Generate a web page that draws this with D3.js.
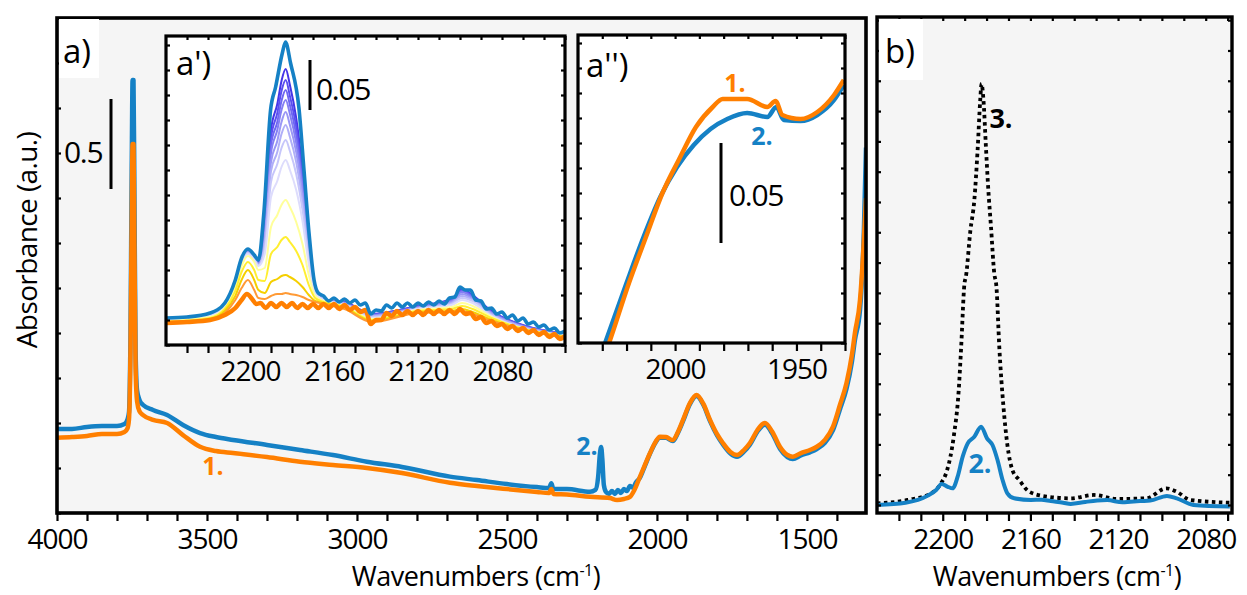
<!DOCTYPE html>
<html>
<head>
<meta charset="utf-8">
<script src="https://cdn.jsdelivr.net/npm/d3@7"></script>
<style>
  body { margin: 0; background: #fff; }
  svg text { font-family: "Open Sans", sans-serif; }
</style>
</head>
<body>
<svg id="chart" width="1247" height="595"></svg>
<script>
// ---------- data: panel a (full spectra) ----------
const mainOrangeWn  = [4000, 3950, 3900, 3850, 3800, 3775, 3765, 3760, 3755, 3751, 3748, 3745, 3742, 3738, 3733, 3725, 3713, 3680, 3633, 3580, 3523, 3470, 3413, 3300, 3190, 3080, 2967, 2850, 2690, 2600, 2500, 2400, 2360, 2352, 2345, 2300, 2223, 2157, 2133, 2110, 2090, 2075, 2057, 2040, 2023, 2005, 1990, 1970, 1947, 1930, 1913, 1890, 1868, 1845, 1823, 1800, 1780, 1755, 1733, 1710, 1690, 1665, 1640, 1615, 1590, 1565, 1547, 1520, 1490, 1467, 1440, 1413, 1390, 1368, 1350, 1340, 1323, 1310, 1303];
const mainOrangeAbs = [0.418, 0.422, 0.428, 0.439, 0.439, 0.45, 0.47, 0.52, 0.9, 1.6, 2.05, 2.05, 1.5, 0.8, 0.62, 0.565, 0.544, 0.517, 0.5, 0.433, 0.368, 0.344, 0.333, 0.311, 0.285, 0.267, 0.25, 0.222, 0.168, 0.15, 0.133, 0.117, 0.111, 0.133, 0.106, 0.103, 0.09, 0.083, 0.072, 0.078, 0.09, 0.128, 0.2, 0.267, 0.333, 0.394, 0.424, 0.422, 0.405, 0.45, 0.517, 0.611, 0.656, 0.606, 0.517, 0.439, 0.389, 0.339, 0.322, 0.35, 0.389, 0.461, 0.5, 0.45, 0.368, 0.322, 0.313, 0.333, 0.35, 0.368, 0.406, 0.48, 0.6, 0.722, 0.878, 1.0, 1.183, 1.517, 1.75];

const mainBlueWn  = [4000, 3950, 3900, 3850, 3800, 3775, 3765, 3760, 3755, 3751, 3748, 3745, 3742, 3738, 3733, 3725, 3713, 3680, 3633, 3580, 3523, 3470, 3413, 3300, 3190, 3080, 2967, 2850, 2690, 2600, 2500, 2400, 2360, 2352, 2345, 2300, 2223, 2205, 2196, 2190, 2186, 2182, 2177, 2170, 2160, 2150, 2140, 2130, 2120, 2110, 2100, 2090, 2080, 2070, 2057, 2040, 2023, 2005, 1990, 1970, 1947, 1930, 1913, 1890, 1868, 1845, 1823, 1800, 1780, 1755, 1733, 1710, 1690, 1665, 1640, 1615, 1590, 1565, 1547, 1520, 1490, 1467, 1440, 1413, 1390, 1368, 1350, 1340, 1323, 1310, 1303];
const mainBlueAbs = [0.467, 0.467, 0.478, 0.483, 0.483, 0.494, 0.52, 0.56, 1.0, 1.9, 2.406, 2.406, 1.8, 0.9, 0.68, 0.628, 0.6, 0.572, 0.544, 0.489, 0.444, 0.422, 0.406, 0.378, 0.35, 0.322, 0.285, 0.256, 0.202, 0.183, 0.161, 0.144, 0.139, 0.165, 0.133, 0.133, 0.118, 0.128, 0.2, 0.33, 0.367, 0.3, 0.156, 0.117, 0.106, 0.122, 0.106, 0.128, 0.111, 0.133, 0.122, 0.15, 0.14, 0.17, 0.195, 0.262, 0.33, 0.39, 0.42, 0.418, 0.4, 0.445, 0.51, 0.605, 0.65, 0.6, 0.51, 0.432, 0.381, 0.331, 0.313, 0.341, 0.38, 0.452, 0.49, 0.44, 0.357, 0.311, 0.3, 0.32, 0.337, 0.355, 0.39, 0.46, 0.575, 0.69, 0.84, 0.96, 1.128, 1.572, 2.03];

const mainTickLabels = [4000, 3500, 3000, 2500, 2000, 1500];

// ---------- data: inset a' (CO region, sequence of spectra) ----------
const insetBlueWn  = [2240, 2230, 2219, 2212, 2207, 2204, 2201, 2198, 2196, 2193.4, 2190.2, 2187.8, 2184.6, 2183.1, 2180.7, 2176.7, 2174.3, 2171.9, 2169.5, 2167.5,
  2165, 2162.5, 2160, 2157.5, 2155, 2152.5, 2150, 2147.5, 2145, 2142.5, 2140, 2137.5, 2135, 2132.5, 2130, 2127.5, 2125, 2122.5, 2120, 2117.5, 2115, 2112.5, 2110, 2107.5, 2105, 2102.5, 2100, 2097.5, 2095, 2092.5, 2090, 2087.5, 2085, 2082.5, 2080, 2077.5, 2075, 2072.5, 2070, 2067.5, 2065, 2062.5, 2060, 2057.5, 2055, 2052.5, 2050];
const insetBlueAbs = [0.027, 0.028, 0.032, 0.042, 0.065, 0.087, 0.096, 0.090, 0.085, 0.132, 0.235, 0.258, 0.292, 0.303, 0.282, 0.237, 0.175, 0.112, 0.065, 0.052,
  0.049, 0.044, 0.047, 0.043, 0.046, 0.042, 0.045, 0.040, 0.042, 0.031, 0.035, 0.034, 0.040, 0.037, 0.042, 0.038, 0.042, 0.038, 0.042, 0.039, 0.043, 0.040, 0.044, 0.041, 0.047, 0.048, 0.058, 0.055, 0.055, 0.045, 0.044, 0.036, 0.037, 0.031, 0.033, 0.027, 0.030, 0.024, 0.027, 0.021, 0.023, 0.018, 0.020, 0.015, 0.017, 0.012, 0.014];

const insetOrangeWn  = [2240, 2230, 2219, 2212, 2207, 2204, 2201.5, 2199, 2197,
  2195, 2192.5, 2190, 2187.5, 2185, 2182.5, 2180, 2177.5, 2175, 2172.5, 2170, 2167.5, 2165, 2162.5, 2160, 2157.5, 2155, 2152.5, 2150, 2147.5, 2145, 2142.5, 2140, 2137.5, 2135, 2132.5, 2130, 2127.5, 2125, 2122.5, 2120, 2117.5, 2115, 2112.5, 2110, 2107.5, 2105, 2102.5, 2100, 2097.5, 2095, 2092.5, 2090, 2087.5, 2085, 2082.5, 2080, 2077.5, 2075, 2072.5, 2070, 2067.5, 2065, 2062.5, 2060, 2057.5, 2055, 2052.5, 2050];
const insetOrangeAbs = [0.022, 0.023, 0.025, 0.030, 0.037, 0.045, 0.051, 0.046, 0.041,
  0.042, 0.037, 0.042, 0.038, 0.042, 0.038, 0.042, 0.037, 0.041, 0.037, 0.041, 0.037, 0.041, 0.037, 0.041, 0.036, 0.040, 0.035, 0.038, 0.033, 0.035, 0.021, 0.025, 0.025, 0.032, 0.029, 0.034, 0.030, 0.034, 0.030, 0.034, 0.030, 0.035, 0.031, 0.035, 0.031, 0.035, 0.031, 0.036, 0.031, 0.032, 0.026, 0.028, 0.022, 0.024, 0.019, 0.021, 0.016, 0.019, 0.014, 0.017, 0.012, 0.015, 0.010, 0.013, 0.008, 0.011, 0.006, 0.009];

// intermediate spectra (from high coverage to low coverage)
const insetStepWn = [2240, 2219, 2212, 2207, 2204, 2201, 2198, 2196, 2193, 2190, 2187, 2185, 2183, 2181, 2178, 2175, 2172, 2169, 2165, 2155, 2142, 2120, 2104, 2099, 2094, 2085, 2050];
const insetStepAbs = [
  [.026, .031, .041, .064, .086, .095, .089, .083, .122, .215, .241, .264, .276, .260, .227, .175, .105, .058, .045, .043, .031, .039, .046, .056, .050, .034, .011],
  [.026, .031, .041, .064, .086, .094, .088, .083, .118, .207, .232, .254, .265, .249, .218, .169, .102, .058, .045, .043, .031, .039, .045, .055, .049, .033, .011],
  [.026, .031, .040, .063, .085, .094, .088, .082, .114, .200, .223, .244, .255, .240, .210, .163, .100, .057, .045, .042, .030, .038, .045, .054, .048, .033, .011],
  [.025, .030, .040, .063, .085, .093, .087, .082, .111, .192, .215, .235, .245, .231, .202, .158, .097, .056, .045, .042, .030, .038, .044, .053, .047, .032, .010],
  [.025, .030, .040, .062, .084, .093, .087, .081, .107, .183, .204, .223, .233, .220, .193, .151, .094, .055, .045, .042, .029, .037, .043, .051, .046, .032, .010],
  [.025, .030, .039, .062, .084, .092, .086, .080, .103, .174, .193, .211, .220, .208, .183, .143, .090, .054, .045, .041, .029, .037, .042, .049, .045, .031, .010],
  [.025, .029, .039, .061, .083, .092, .086, .080, .097, .163, .181, .197, .205, .194, .171, .135, .086, .053, .045, .041, .028, .036, .041, .047, .044, .030, .009],
  [.024, .029, .038, .060, .082, .091, .085, .079, .091, .148, .164, .178, .185, .175, .155, .124, .081, .052, .045, .040, .027, .036, .040, .045, .042, .029, .009],
  [.024, .028, .037, .058, .079, .089, .083, .075, .077, .118, .130, .140, .145, .138, .123, .101, .070, .049, .044, .039, .026, .035, .038, .042, .039, .028, .009],
  [.023, .027, .036, .054, .073, .083, .075, .065, .064, .091, .098, .105, .108, .103, .094, .080, .060, .047, .043, .038, .025, .034, .036, .039, .036, .027, .008],
  [.023, .026, .034, .049, .065, .075, .065, .055, .052, .063, .066, .069, .070, .068, .064, .058, .050, .044, .042, .037, .024, .033, .034, .036, .033, .025, .008],
  [.023, .025, .032, .045, .057, .065, .055, .047, .046, .049, .051, .051, .052, .051, .050, .048, .045, .043, .041, .036, .023, .032, .033, .034, .031, .024, .007]
];
const insetStepColors = ["#4535e8", "#5a4ef0", "#6e66f2", "#847ff4", "#9a97f6", "#b0aff8", "#c6c6fa", "#dddcfc", "#ffff9a", "#ffee30", "#f5cf00", "#ff9a35"];
const insetTickLabels = [2200, 2160, 2120, 2080];

// ---------- data: inset a'' ----------
const dblBlueWn  = [2034, 2028.8, 2020, 2013, 2006.1, 1999.2, 1992.3, 1985.4, 1978.5, 1970.3, 1962, 1958.3, 1955.2, 1948.3, 1941.4, 1934.5, 1930.5];
const dblBlueAbs = [-0.018, 0, 0.030, 0.053, 0.073, 0.088, 0.099, 0.107, 0.112, 0.115, 0.113, 0.118, 0.1115, 0.111, 0.114, 0.1215, 0.129];
const dblOrangeWn  = [2032, 2027.2, 2019, 2012, 2005.2, 1998.3, 1991.4, 1984.5, 1980.4, 1970.3, 1962, 1958.6, 1955.8, 1948.3, 1941.4, 1934.5, 1930.5];
const dblOrangeAbs = [-0.016, 0, 0.030, 0.053, 0.075, 0.092, 0.108, 0.118, 0.122, 0.122, 0.118, 0.121, 0.114, 0.112, 0.1155, 0.124, 0.1315];
const dblTickLabels = [2000, 1950];

// ---------- data: panel b ----------
const bBlueWn  = [2230, 2217, 2207, 2203, 2200.5, 2197.7, 2195.5, 2193.2, 2190.9, 2188.6, 2185.6, 2182.5, 2179.8, 2177.3, 2175, 2172.7, 2170.5, 2167.4, 2159.8, 2155, 2150.7, 2145, 2141.6, 2135, 2129.5, 2125, 2118, 2114.4, 2110, 2105.3, 2097.7, 2093.2, 2085.6, 2069];
const bBlueAbs = [0, 0.0015, 0.006, 0.0099, 0.0139, 0.012, 0.011, 0.0187, 0.0319, 0.0407, 0.045, 0.0517, 0.044, 0.0396, 0.0297, 0.0165, 0.0077, 0.0044, 0.0033, 0.0035, 0.0026, 0.0015, 0.0007, 0.002, 0.0029, 0.0032, 0.0018, 0.0022, 0.0026, 0.0029, 0.006, 0.0044, 0, -0.001];
const bDotWn  = [2230, 2216, 2205.3, 2200.7, 2198, 2195, 2192.7, 2191.6, 2190.1, 2189.4, 2187.4, 2185.6, 2184.1, 2182.9, 2182.3, 2181.4, 2180.3, 2179.2, 2178, 2176.5, 2175.5, 2174.2, 2172.3, 2170.5, 2168.2, 2165.1, 2160.6, 2152.3, 2141.6, 2131, 2120.6, 2107, 2098, 2093.3, 2087, 2069];
const bDotAbs = [0.001, 0.0033, 0.0077, 0.0145, 0.023, 0.045, 0.076, 0.104, 0.146, 0.151, 0.181, 0.201, 0.234, 0.267, 0.278, 0.267, 0.2365, 0.208, 0.184, 0.153, 0.144, 0.1045, 0.065, 0.0396, 0.023, 0.0165, 0.0088, 0.0055, 0.0044, 0.0066, 0.004, 0.0044, 0.011, 0.0088, 0.0033, 0.0015];
const bTickLabels = [2200, 2160, 2120, 2080];

// ---------- drawing ----------
const orange = "#ff7f00";
const blue = "#1581c5";
const svg = d3.select("#chart");

const xMain = d3.scaleLinear().domain([4000, 1303]).range([57, 866]);
const yMain = d3.scaleLinear().domain([0, 2.75]).range([513, 18]);
const xA1 = d3.scaleLinear().domain([2240, 2050]).range([166, 565]);
const yA1 = d3.scaleLinear().domain([0, 0.309]).range([345, 36]);
const xA2 = d3.scaleLinear().domain([2040, 1930]).range([578, 845]);
const yA2 = d3.scaleLinear().domain([0, 0.154]).range([343, 35]);
const xB = d3.scaleLinear().domain([2230, 2068]).range([877, 1232]);
const yB = d3.scaleLinear().domain([-0.0053, 0.3221]).range([513, 17]);

let clipId = 0;

// background + clip for one panel, returns the clipped group
function panelBody(x, y, fill) {
  const [xl, xr] = x.range(), [yb, yt] = y.range();
  const id = "clip" + (clipId++);
  svg.append("clipPath").attr("id", id)
    .append("rect").attr("x", xl).attr("y", yt).attr("width", xr - xl).attr("height", yb - yt);
  svg.append("rect").attr("x", xl).attr("y", yt).attr("width", xr - xl).attr("height", yb - yt).attr("fill", fill);
  return svg.append("g").attr("clip-path", `url(#${id})`);
}

// frame, bottom axis and inner ticks
function panelFrame(x, y, o) {
  const [xl, xr] = x.range(), [yb, yt] = y.range();
  const g = svg.append("g");

  const bottom = g.append("g").attr("transform", `translate(0,${yb})`)
    .call(d3.axisBottom(x).tickValues(o.xTicks).tickSize(8)
      .tickFormat(d => o.xLabels.includes(d) ? d : ""));
  bottom.select(".domain").remove();
  bottom.selectAll("line").attr("stroke-width", 2.2);
  bottom.selectAll("text").attr("y", 36).attr("dy", null)
    .attr("font-size", 28).attr("letter-spacing", "-1px").attr("fill", "#000");

  const inner = (axis, tr) => {
    const a = g.append("g").attr("transform", tr).call(axis.tickSize(-4).tickFormat(""));
    a.select(".domain").remove();
    a.selectAll("line").attr("stroke-width", 2.2);
  };
  inner(d3.axisLeft(y).tickValues(o.yTicks), `translate(${xl},0)`);
  if (o.mirror) {
    inner(d3.axisRight(y).tickValues(o.yTicks), `translate(${xr},0)`);
    inner(d3.axisTop(x).tickValues(o.xTicks), `translate(0,${yt})`);
  }
  g.append("rect").attr("x", xl).attr("y", yt).attr("width", xr - xl).attr("height", yb - yt)
    .attr("fill", "none").attr("stroke", "#000").attr("stroke-width", o.frame || 3.2);
}

function drawLine(g, x, y, wn, abs, color, width, dash) {
  const pts = wn.map((w, i) => [w, abs[i]]);
  const line = d3.line().x(d => x(d[0])).y(d => y(d[1])).curve(d3.curveMonotoneX);
  const p = g.append("path").datum(pts).attr("d", line)
    .attr("fill", "none").attr("stroke", color).attr("stroke-width", width)
    .attr("stroke-linejoin", "round");
  if (dash) p.attr("stroke-dasharray", dash);
  return p;
}

function label(txt, xPos, yPos, size, color, weight, anchor) {
  return svg.append("text").attr("x", xPos).attr("y", yPos).attr("font-size", size)
    .attr("fill", color || "#000").attr("font-weight", weight || 400)
    .attr("text-anchor", anchor || "start").text(txt);
}

function axisTitle(cx, by) {
  const t = svg.append("text").attr("x", cx).attr("y", by).attr("text-anchor", "middle")
    .attr("font-size", 27).attr("letter-spacing", "-0.5px");
  t.append("tspan").text("Wavenumbers (cm");
  t.append("tspan").attr("font-size", 16).attr("dy", -10).text("-1");
  t.append("tspan").attr("dy", 10).text(")");
}

// ----- panel a -----
const ga = panelBody(xMain, yMain, "#f5f5f5");
drawLine(ga, xMain, yMain, mainBlueWn, mainBlueAbs, blue, 4.5);
drawLine(ga, xMain, yMain, mainOrangeWn, mainOrangeAbs, orange, 4.5);
panelFrame(xMain, yMain, {
  xTicks: d3.range(4000, 1300, -100), xLabels: mainTickLabels,
  yTicks: d3.range(0, 2.76, 0.25), mirror: false, frame: 3.6
});
svg.append("rect").attr("x", 59).attr("y", 19).attr("width", 40).attr("height", 59).attr("fill", "#fff");
label("a)", 63, 63, 33);
svg.append("line").attr("x1", 111).attr("x2", 111).attr("y1", yMain(2.3)).attr("y2", yMain(1.8))
  .attr("stroke", "#000").attr("stroke-width", 3);
label("0.5", 64, 163, 30).attr("letter-spacing", "-1.3px");
label("1.", 213, 475, 25, orange, 700, "middle");
label("2.", 587, 455, 25, blue, 700, "middle");
svg.append("text").attr("transform", "translate(37,240) rotate(-90)")
  .attr("text-anchor", "middle").attr("font-size", 28).attr("letter-spacing", "-0.6px")
  .text("Absorbance (a.u.)");
axisTitle(476, 586);

// ----- inset a' -----
const g1 = panelBody(xA1, yA1, "#fff");
insetStepAbs.forEach((abs, i) => drawLine(g1, xA1, yA1, insetStepWn, abs, insetStepColors[i], 2));
drawLine(g1, xA1, yA1, insetOrangeWn, insetOrangeAbs, orange, 4.5);
drawLine(g1, xA1, yA1, insetBlueWn, insetBlueAbs, blue, 3.6);
panelFrame(xA1, yA1, {
  xTicks: d3.range(2230, 2049, -10), xLabels: insetTickLabels,
  yTicks: d3.range(0, 0.31, 0.025), mirror: true
});
label("a')", 176, 75, 33);
svg.append("line").attr("x1", 310).attr("x2", 310).attr("y1", yA1(0.285)).attr("y2", yA1(0.235))
  .attr("stroke", "#000").attr("stroke-width", 3);
label("0.05", 316, 100, 30).attr("letter-spacing", "-1.3px");

// ----- inset a'' -----
const g2 = panelBody(xA2, yA2, "#fff");
drawLine(g2, xA2, yA2, dblBlueWn, dblBlueAbs, blue, 4.5);
drawLine(g2, xA2, yA2, dblOrangeWn, dblOrangeAbs, orange, 4.5);
panelFrame(xA2, yA2, {
  xTicks: d3.range(2030, 1929, -10), xLabels: dblTickLabels,
  yTicks: d3.range(0, 0.155, 0.0125), mirror: true
});
label("a'')", 586, 77, 33);
svg.append("line").attr("x1", 721).attr("x2", 721).attr("y1", yA2(0.1)).attr("y2", yA2(0.05))
  .attr("stroke", "#000").attr("stroke-width", 3);
label("0.05", 729, 206, 30).attr("letter-spacing", "-1.3px");
label("1.", 735, 92, 25, orange, 700, "middle");
label("2.", 762, 145, 25, blue, 700, "middle");

// ----- panel b -----
const gb = panelBody(xB, yB, "#f5f5f5");
drawLine(gb, xB, yB, bDotWn, bDotAbs, "#000", 3.8, "3.5,3.5");
drawLine(gb, xB, yB, bBlueWn, bBlueAbs, blue, 4);
panelFrame(xB, yB, {
  xTicks: d3.range(2220, 2068, -10), xLabels: bTickLabels,
  yTicks: d3.range(0, 0.321, 0.02), mirror: true, frame: 3.4
});
svg.append("rect").attr("x", 879).attr("y", 19).attr("width", 44).attr("height", 61).attr("fill", "#fff");
label("b)", 885, 63, 33);
label("3.", 1001, 128, 27, "#000", 700, "middle");
label("2.", 980, 473, 27, blue, 700, "middle");
axisTitle(1057, 586);
</script>
</body>
</html>
